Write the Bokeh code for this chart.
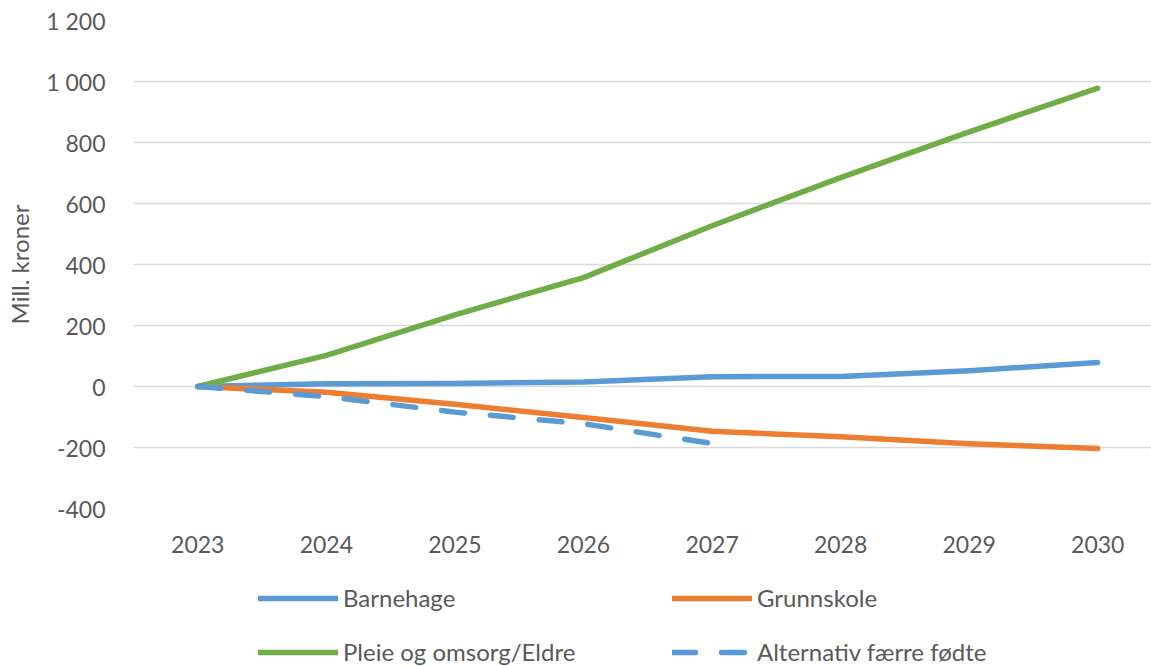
from bokeh.plotting import figure
from bokeh.models import Range1d, FixedTicker, Legend, LegendItem
from bokeh.layouts import column
from bokeh.embed import file_html
from bokeh.resources import INLINE

years = [2023, 2024, 2025, 2026, 2027, 2028, 2029, 2030]
barnehage = [0, 9, 10, 15, 32, 33, 52, 79]
grunnskole = [0, -19, -58, -102, -147, -165, -188, -203]
pleie_eldre = [0, 102, 235, 357, 527, 685, 835, 978]
alt_years = [2023, 2024, 2025, 2026, 2027]
alternativ = [0, -33, -84, -122, -187]

y_ticks = [-400, -200, 0, 200, 400, 600, 800, 1000, 1200]
y_tick_labels = ["-400", "-200", "0", "200", "400", "600", "800", "1 000", "1 200"]
x_tick_labels = [str(y) for y in years]

names = ["Barnehage", "Grunnskole", "Pleie og omsorg/Eldre", "Alternativ færre fødte"]
colors = ["#5B9BD5", "#ED7D31", "#70AD47", "#5B9BD5"]
dashes = ["solid", "solid", "solid", "23 26"]

FONT = "Lato"
TXT = "#595959"
LW = 5.5

p = figure(width=1151, height=568, output_backend="svg", toolbar_location=None,
           x_range=Range1d(2022.5, 2030.418), y_range=Range1d(-400, 1200),
           min_border_left=133, min_border_right=0, min_border_top=20, min_border_bottom=60)
p.outline_line_color = None
p.background_fill_color = "white"
p.border_fill_color = "white"

p.xgrid.grid_line_color = None
p.ygrid.grid_line_color = "#d9d9d9"
p.ygrid.grid_line_width = 1.5
p.ygrid.ticker = FixedTicker(ticks=y_ticks)

p.yaxis.ticker = FixedTicker(ticks=y_ticks)
p.yaxis.major_label_overrides = {t: l for t, l in zip(y_ticks, y_tick_labels)}
p.xaxis.ticker = FixedTicker(ticks=years)
p.xaxis.major_label_overrides = {y: l for y, l in zip(years, x_tick_labels)}
for ax in (p.xaxis[0], p.yaxis[0]):
    ax.axis_line_color = None
    ax.major_tick_line_color = None
    ax.minor_tick_line_color = None
    ax.major_tick_out = 0
    ax.major_tick_in = 0
    ax.major_label_text_font = FONT
    ax.major_label_text_font_size = "23px"
    ax.major_label_text_color = TXT
p.yaxis.major_label_standoff = 28
p.xaxis.major_label_standoff = 27
p.yaxis.axis_label = "Mill. kroner"
p.yaxis.axis_label_text_font = FONT
p.yaxis.axis_label_text_font_size = "24px"
p.yaxis.axis_label_text_font_style = "normal"
p.yaxis.axis_label_text_color = TXT
p.yaxis.axis_label_standoff = 9

series = [(years, barnehage), (years, grunnskole), (years, pleie_eldre), (alt_years, alternativ)]
for (xs, ys), c, d in zip(series, colors, dashes):
    p.line(xs, ys, line_color=c, line_width=LW, line_cap="round", line_join="round", line_dash=d)

# Legend area below the chart (legend swatches only, no data drawn)
lf = figure(width=1151, height=98, output_backend="svg", toolbar_location=None,
            x_axis_type=None, y_axis_type=None, x_range=Range1d(0, 1), y_range=Range1d(0, 1),
            min_border_left=133, min_border_right=0, min_border_top=0, min_border_bottom=0)
lf.outline_line_color = None
lf.grid.visible = False
items = []
nan = float("nan")
for name, c, d in zip(names, colors, dashes):
    r = lf.line([nan], [nan], line_color=c, line_width=LW, line_cap="round", line_join="round", line_dash=d)
    items.append(LegendItem(label=name, renderers=[r]))

legend = Legend(items=items, orientation="horizontal", ncols=2,
                glyph_width=80, glyph_height=28, label_height=28, label_width=304,
                label_standoff=5, spacing=25, padding=0, margin=0,
                border_line_color=None, background_fill_alpha=0,
                label_text_font=FONT, label_text_font_size="24px", label_text_color=TXT,
                location=(125, 0))
lf.add_layout(legend, "center")

open("out.html", "w").write(file_html(column(p, lf, spacing=0), INLINE))
